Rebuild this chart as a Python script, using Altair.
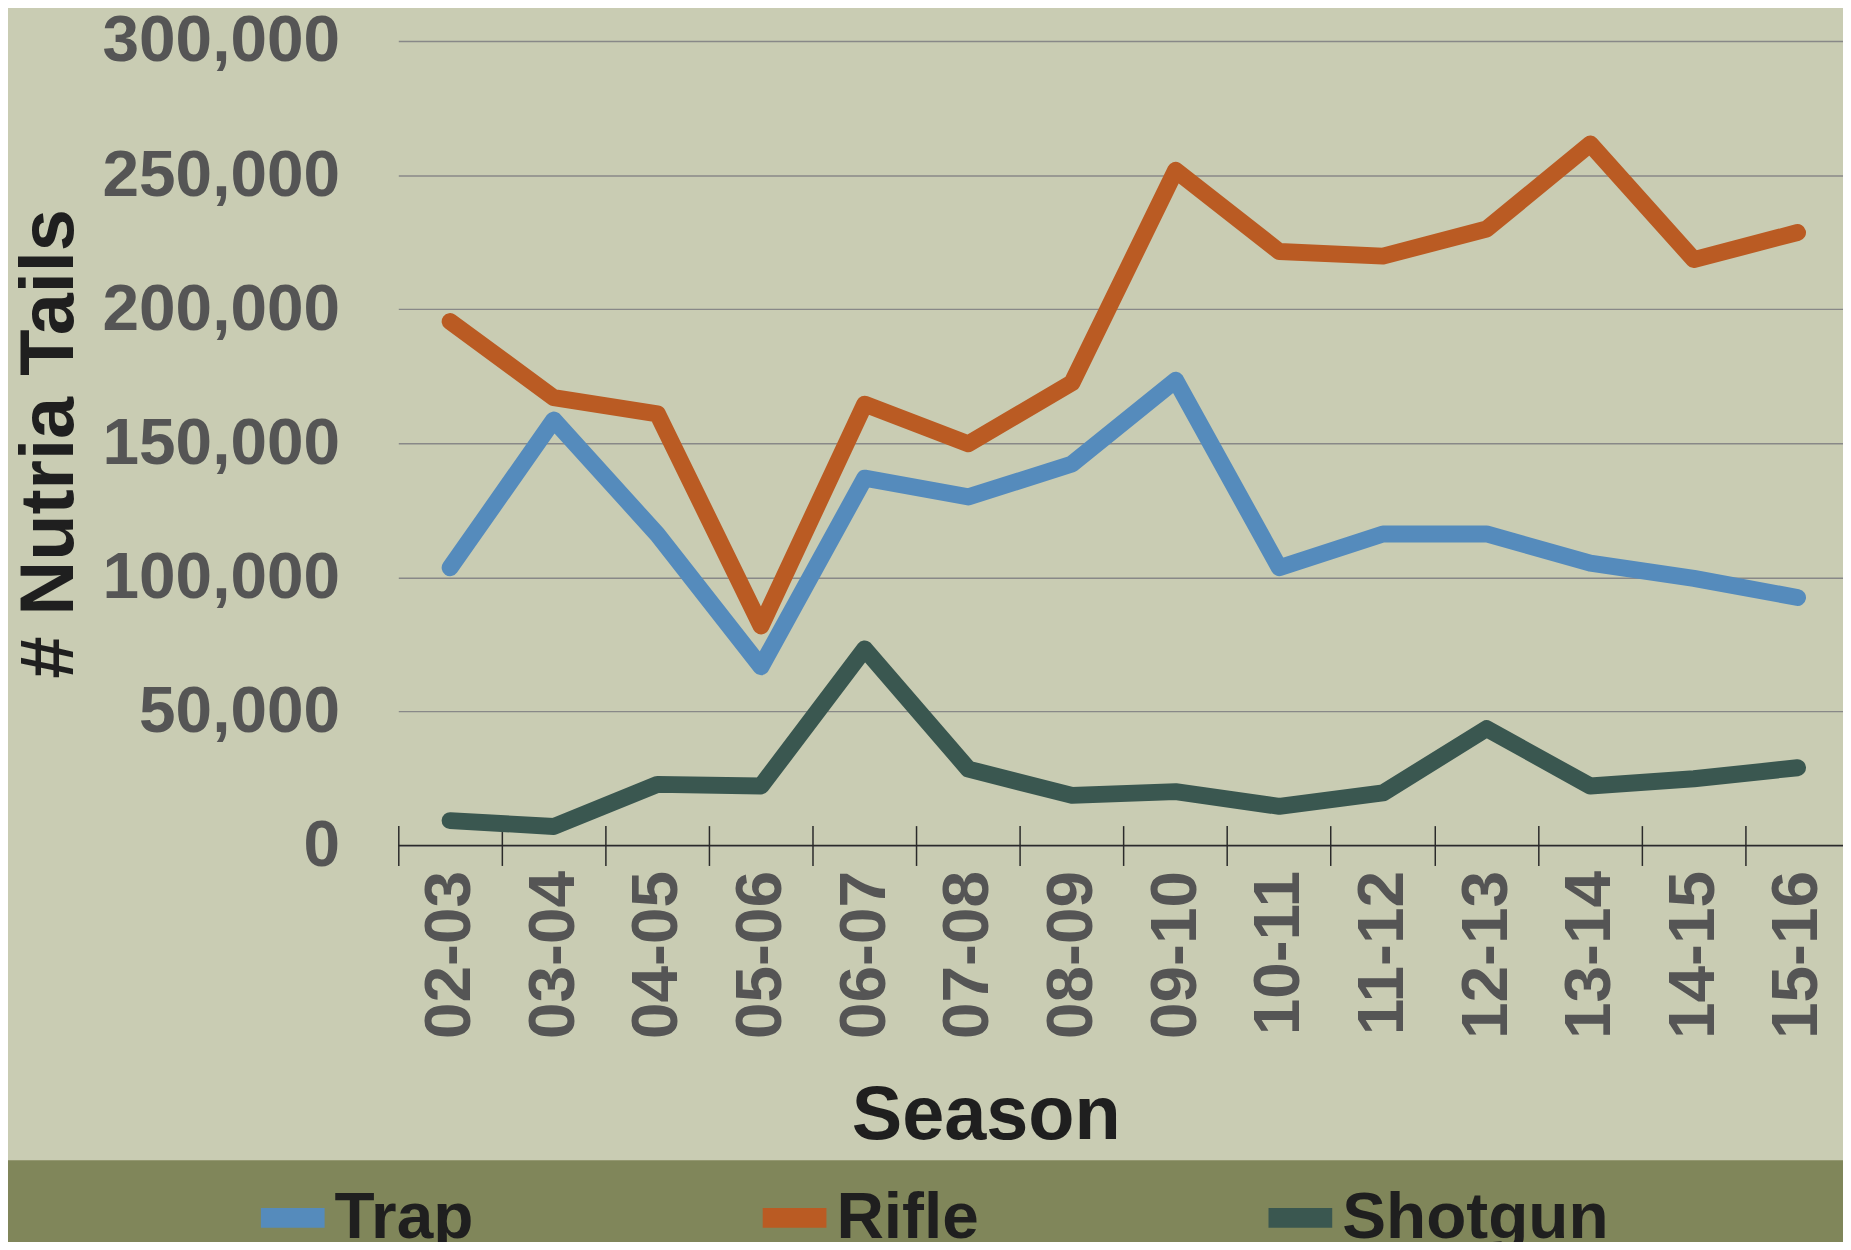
import altair as alt
import pandas as pd

seasons = ["02-03", "03-04", "04-05", "05-06", "06-07", "07-08", "08-09",
           "09-10", "10-11", "11-12", "12-13", "13-14", "14-15", "15-16"]
trap = [103600, 158700, 116000, 66700, 137000, 130000, 142300,
        173500, 103600, 116200, 116200, 105300, 99600, 92500]
rifle = [195400, 167000, 161000, 81900, 164600, 149800, 172600,
         251800, 221500, 219800, 229900, 261600, 218500, 228600]
shotgun = [9300, 7100, 22800, 22200, 73300, 28500, 18700,
           20100, 14600, 19600, 43600, 22200, 24900, 29000]
methods = ["Trap", "Rifle", "Shotgun"]
colors = ["#558BBC", "#BA5B23", "#3A5750"]
y_ticks = [0, 50000, 100000, 150000, 200000, 250000, 300000]

rows = []
for m, vals in zip(methods, [trap, rifle, shotgun]):
    for s, v in zip(seasons, vals):
        rows.append({"Season": s, "Tails": v, "Method": m})
df = pd.DataFrame(rows)

W = 1451
H = 808
STEP = 104.1
FONT = "Liberation Sans"

y_axis = alt.Axis(
    title="# Nutria Tails", titleFont=FONT, titleFontSize=76, titleFontWeight="bold",
    titleColor="#1F1F1F", titleAngle=270, titleX=-327, titleY=404,
    titleAlign="center", titleBaseline="alphabetic",
    values=y_ticks, labelExpr="format(datum.value, ',')",
    labelFont=FONT, labelFontSize=66,
    labelFontWeight="bold", labelColor="#555555", labelPadding=59, labelLimit=0,
    ticks=False, domain=False, grid=True, gridColor="#888888", gridWidth=1.5,
)
y_scale = alt.Scale(domain=[0, 300000], nice=False)

band = alt.Chart(alt.Data(values=[{"band": "legend"}])).mark_rect(
    color="#80865A"
).encode(
    x=alt.value(-420), x2=alt.value(W + 50),
    y=alt.value(H + 316), y2=alt.value(H + 500)
)

lines = alt.Chart(df).mark_line(
    strokeWidth=17, strokeCap="round", strokeJoin="round"
).encode(
    x=alt.X(
        "Season:N", sort=seasons,
        scale=alt.Scale(type="band", range=[0, STEP * 14], paddingInner=0, paddingOuter=0),
        axis=alt.Axis(
            title="Season", titleFont=FONT, titleFontSize=76, titleFontWeight="bold",
            titleColor="#1F1F1F", titleX=590, titleY=314, titleAlign="center",
            titleBaseline="alphabetic", titleAngle=0,
            labelFont=FONT, labelFontSize=66, labelFontWeight="bold", labelColor="#555555",
            labelAngle=270, labelPadding=5, labelOverlap=False, labelLimit=0,
            bandPosition=0, offset=-20, tickSize=40, tickColor="#2A2A2A", tickWidth=1.5,
            domain=False, grid=False,
        ),
    ),
    y=alt.Y("Tails:Q", scale=y_scale, axis=y_axis),
    color=alt.Color(
        "Method:N",
        scale=alt.Scale(domain=methods, range=colors),
        legend=alt.Legend(
            title=None, orient="none", legendX=-148, legendY=1140,
            direction="horizontal", columns=3, columnPadding=250,
            symbolType="stroke", symbolSize=64 * 64, symbolStrokeWidth=20,
            labelFont=FONT, labelFontSize=66, labelFontWeight="bold",
            labelColor="#1F1F1F", labelOffset=0, labelLimit=0, padding=0,
        ),
    ),
)

axis_line = alt.Chart(alt.Data(values=[{"Tails": 0}])).mark_rule(
    color="#2A2A2A", strokeWidth=1.5
).encode(y=alt.Y("Tails:Q", scale=y_scale, axis=y_axis))

chart = alt.layer(band, lines, axis_line).properties(
    width=W, height=H,
    autosize=alt.AutoSizeParams(type="none"),
    padding={"left": 392, "top": 30.5, "right": 0, "bottom": 395.5},
    background="#C9CCB3",
).configure_view(stroke=None)

chart.save("out.html", embed_options={"renderer": "svg", "actions": False})
